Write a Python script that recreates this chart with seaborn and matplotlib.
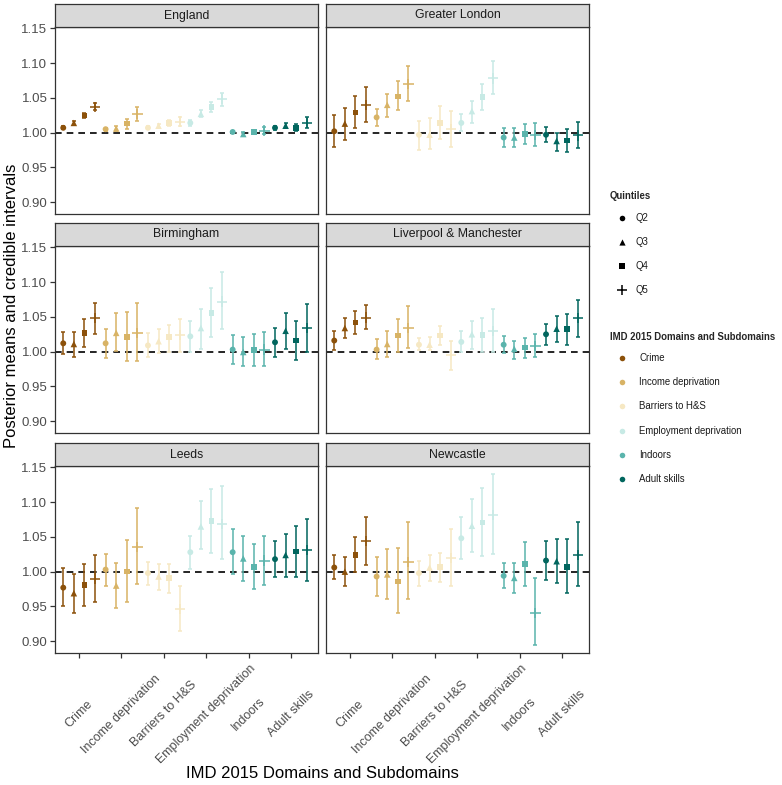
import numpy as np
import pandas as pd
import matplotlib
matplotlib.use("Agg")
import matplotlib.pyplot as plt
import seaborn as sns

sns.set_theme(style="white")
plt.rcParams['font.family'] = ['Liberation Sans', 'DejaVu Sans']

# ---------------- data ----------------
domains = ["Crime", "Income deprivation", "Barriers to H&S",
           "Employment deprivation", "Indoors", "Adult skills"]
quintiles = ["Q2", "Q3", "Q4", "Q5"]
regions = ["England", "Greater London", "Birmingham",
           "Liverpool & Manchester", "Leeds", "Newcastle"]
domain_colors = ["#8c510a", "#d8b365", "#f6e8c3", "#c7eae5", "#5ab4ac", "#01665e"]
yticks = [0.90, 0.95, 1.00, 1.05, 1.10, 1.15]

# values ordered domain-major, quintile-minor (Q2..Q5)
england_mean = [1.007, 1.014, 1.025, 1.037, 1.005, 1.006, 1.013, 1.027,
                1.007, 1.010, 1.014, 1.016, 1.014, 1.027, 1.037, 1.048,
                1.001, 0.998, 1.001, 1.003, 1.007, 1.010, 1.007, 1.014]
england_lo = [1.005, 1.011, 1.021, 1.032, 1.003, 1.003, 1.005, 1.017,
              1.005, 1.007, 1.010, 1.010, 1.010, 1.022, 1.030, 1.038,
              0.999, 0.995, 0.998, 0.998, 1.004, 1.006, 1.002, 1.006]
england_hi = [1.009, 1.017, 1.029, 1.042, 1.007, 1.009, 1.020, 1.037,
              1.009, 1.013, 1.018, 1.022, 1.018, 1.032, 1.044, 1.057,
              1.003, 1.001, 1.004, 1.008, 1.010, 1.014, 1.012, 1.022]

london_mean = [1.002, 1.013, 1.029, 1.040, 1.022, 1.040, 1.052, 1.070,
               0.997, 0.997, 1.014, 1.005, 1.014, 1.031, 1.051, 1.078,
               0.993, 0.993, 0.998, 0.997, 0.997, 0.988, 0.989, 0.996]
london_lo = [0.980, 0.990, 1.006, 1.016, 1.009, 1.023, 1.032, 1.046,
             0.975, 0.976, 0.991, 0.980, 1.002, 1.014, 1.032, 1.055,
             0.980, 0.979, 0.983, 0.981, 0.986, 0.974, 0.972, 0.978]
london_hi = [1.025, 1.036, 1.053, 1.065, 1.034, 1.056, 1.074, 1.096,
             1.017, 1.021, 1.038, 1.031, 1.027, 1.046, 1.070, 1.103,
             1.006, 1.006, 1.013, 1.014, 1.008, 0.999, 1.005, 1.016]

birmingham_mean = [1.012, 1.011, 1.027, 1.048, 1.012, 1.027, 1.021, 1.027,
                   1.009, 1.015, 1.021, 1.024, 1.022, 1.034, 1.056, 1.072,
                   1.003, 0.9995, 1.002, 1.003, 1.0135, 1.030, 1.016, 1.034]
birmingham_lo = [0.997, 0.993, 1.007, 1.025, 0.991, 1.001, 0.986, 0.986,
                 0.993, 0.998, 1.000, 1.000, 1.000, 1.004, 1.021, 1.032,
                 0.982, 0.979, 0.980, 0.980, 0.993, 1.004, 0.988, 1.000]
birmingham_hi = [1.028, 1.029, 1.047, 1.070, 1.033, 1.056, 1.057, 1.070,
                 1.027, 1.033, 1.039, 1.047, 1.044, 1.062, 1.092, 1.114,
                 1.024, 1.021, 1.025, 1.028, 1.034, 1.055, 1.044, 1.069]

livman_mean = [1.016, 1.034, 1.042, 1.049, 1.003, 1.011, 1.023, 1.034,
               1.010, 1.010, 1.023, 0.995, 1.014, 1.025, 1.024, 1.030,
               1.010, 1.004, 1.006, 1.008, 1.025, 1.033, 1.033, 1.048]
livman_lo = [1.002, 1.019, 1.025, 1.032, 0.989, 0.992, 0.999, 1.005,
             1.003, 1.003, 1.010, 0.973, 0.9995, 1.004, 0.9995, 0.999,
             0.998, 0.990, 0.991, 0.992, 1.010, 1.014, 1.010, 1.021]
livman_hi = [1.030, 1.048, 1.058, 1.067, 1.018, 1.030, 1.047, 1.065,
             1.020, 1.021, 1.037, 1.015, 1.030, 1.044, 1.049, 1.061,
             1.022, 1.016, 1.019, 1.025, 1.040, 1.051, 1.054, 1.075]

leeds_mean = [0.977, 0.969, 0.981, 0.990, 1.003, 0.980, 1.000, 1.035,
              0.998, 0.993, 0.991, 0.946, 1.028, 1.065, 1.073, 1.069,
              1.028, 1.019, 1.007, 1.016, 1.018, 1.024, 1.029, 1.031]
leeds_lo = [0.951, 0.940, 0.951, 0.957, 0.980, 0.948, 0.957, 0.982,
            0.981, 0.973, 0.969, 0.914, 1.004, 1.032, 1.027, 1.018,
            0.996, 0.987, 0.975, 0.981, 0.992, 0.993, 0.992, 0.986]
leeds_hi = [1.005, 0.997, 1.011, 1.024, 1.025, 1.013, 1.046, 1.091,
            1.014, 1.011, 1.011, 0.979, 1.052, 1.101, 1.119, 1.123,
            1.061, 1.052, 1.040, 1.051, 1.044, 1.054, 1.066, 1.076]

newcastle_mean = [1.006, 1.000, 1.024, 1.044, 0.993, 0.996, 0.986, 1.014,
                  0.998, 1.006, 1.007, 1.020, 1.048, 1.066, 1.071, 1.082,
                  0.994, 0.991, 1.011, 0.941, 1.016, 1.015, 1.007, 1.024]
newcastle_lo = [0.989, 0.980, 0.999, 1.009, 0.965, 0.961, 0.941, 0.960,
                0.980, 0.986, 0.985, 0.980, 1.018, 1.029, 1.023, 1.026,
                0.976, 0.969, 0.980, 0.894, 0.988, 0.983, 0.969, 0.979]
newcastle_hi = [1.024, 1.021, 1.050, 1.079, 1.021, 1.032, 1.034, 1.072,
                1.015, 1.024, 1.027, 1.061, 1.079, 1.105, 1.120, 1.141,
                1.012, 1.013, 1.042, 0.991, 1.044, 1.047, 1.047, 1.072]

region_data = {
    "England": (england_mean, england_lo, england_hi),
    "Greater London": (london_mean, london_lo, london_hi),
    "Birmingham": (birmingham_mean, birmingham_lo, birmingham_hi),
    "Liverpool & Manchester": (livman_mean, livman_lo, livman_hi),
    "Leeds": (leeds_mean, leeds_lo, leeds_hi),
    "Newcastle": (newcastle_mean, newcastle_lo, newcastle_hi),
}

# ---------------- long table ----------------
dodge = 0.25
rows = []
for r in regions:
    m, lo, hi = region_data[r]
    for i, d in enumerate(domains):
        for j, q in enumerate(quintiles):
            k = i * len(quintiles) + j
            rows.append(dict(region=r, domain=d, quintile=q,
                             mean=m[k], lo=lo[k], hi=hi[k],
                             xpos=i + 1 + (j - 1.5) * dodge))
df = pd.DataFrame(rows)
palette = dict(zip(domains, domain_colors))
filled_markers = {"Q2": "o", "Q3": "^", "Q4": "s"}
marker_sizes = {"Q2": 18, "Q3": 22, "Q4": 16}

# ---------------- layout ----------------
W, H = 782, 785
fig = plt.figure(figsize=(W / 100, H / 100), dpi=100)
fig.patch.set_facecolor("white")

col_left = [55, 326]
panel_w = 263
row_top = [27, 246, 466]
panel_h = 187
strip_h = 23
edge = "#333333"

for idx, r in enumerate(regions):
    rr, cc = divmod(idx, 2)
    x0 = col_left[cc]
    y0 = row_top[rr]
    ax = fig.add_axes([x0 / W, 1 - (y0 + panel_h) / H, panel_w / W, panel_h / H])
    sub = df[df.region == r]

    ax.axhline(1.0, color="black", lw=1.2, ls=(0, (4, 3)), zorder=1)

    for _, row in sub.iterrows():
        ax.errorbar(row.xpos, row["mean"],
                    yerr=[[row["mean"] - row.lo], [row.hi - row["mean"]]],
                    fmt="none", ecolor=palette[row.domain], elinewidth=1.1,
                    capsize=1.3, capthick=1.1, zorder=2)

    filled = sub[sub.quintile != "Q5"]
    for q in ["Q2", "Q3", "Q4"]:
        sns.scatterplot(data=filled[filled.quintile == q], x="xpos", y="mean",
                        hue="domain", palette=palette, marker=filled_markers[q],
                        s=marker_sizes[q], linewidth=0, legend=False, ax=ax, zorder=3)
    q5 = sub[sub.quintile == "Q5"]
    ax.scatter(q5.xpos, q5["mean"], marker="+", s=55, linewidths=1.1,
               c=[palette[d] for d in q5.domain], zorder=3)

    ax.set_xlim(0.43, 6.64)
    ax.set_ylim(0.883, 1.152)
    ax.set_xlabel("")
    ax.set_ylabel("")
    for s in ax.spines.values():
        s.set_color(edge)
        s.set_linewidth(0.9)
    ax.set_facecolor("white")

    ax.set_yticks(yticks)
    ax.set_xticks(range(1, len(domains) + 1))
    if cc == 0:
        ax.set_yticklabels([f"{v:.2f}" for v in yticks], fontsize=9.5, color="#4D4D4D")
        ax.tick_params(axis="y", length=3.5, width=0.9, color=edge, left=True, pad=2)
    else:
        ax.set_yticklabels([])
        ax.tick_params(axis="y", left=False, length=0)
    if rr == 2:
        ax.set_xticklabels(domains, rotation=45, ha="center", va="center",
                           rotation_mode="anchor", fontsize=9, color="#4D4D4D")
        ax.tick_params(axis="x", length=3.5, width=0.9, color=edge, bottom=True, pad=40.5)
    else:
        ax.set_xticklabels([])
        ax.tick_params(axis="x", bottom=False, length=0)

    # strip
    sax = fig.add_axes([x0 / W, 1 - y0 / H, panel_w / W, strip_h / H])
    sax.set_facecolor("#D9D9D9")
    sax.set_xticks([])
    sax.set_yticks([])
    for s in sax.spines.values():
        s.set_color(edge)
        s.set_linewidth(0.9)
    sax.text(0.5, 0.5, r, ha="center", va="center", fontsize=8.8, color="#1A1A1A",
             transform=sax.transAxes)

# axis titles
fig.text(322 / W, 1 - 773 / H, "IMD 2015 Domains and Subdomains",
         ha="center", va="center", fontsize=12, color="black")
fig.text(12 / W, 1 - 306 / H, "Posterior means and credible intervals",
         ha="center", va="center", rotation=90, fontsize=12, color="black")

# ---------------- legend (manual) ----------------
lax = fig.add_axes([0, 0, 1, 1], facecolor="none")
lax.set_xlim(0, W)
lax.set_ylim(H, 0)
lax.axis("off")

lax.text(610, 196, "Quintiles", fontsize=6.9, fontweight="bold", va="center", ha="left")
q_markers = {"Q2": ("o", 16), "Q3": ("^", 20), "Q4": ("s", 14), "Q5": ("+", 50)}
for n, q in enumerate(quintiles):
    y = 218 + n * 24
    mk, sz = q_markers[q]
    lax.scatter([622], [y], marker=mk, s=sz, color="black", linewidths=1.1 if mk == "+" else 0)
    lax.text(635, y, q, fontsize=6.9, va="center", ha="left", color="#1A1A1A")

lax.text(610, 337, "IMD 2015 Domains and Subdomains", fontsize=6.9, fontweight="bold",
         va="center", ha="left")
for n, d in enumerate(domains):
    y = 358 + n * 24.2
    lax.scatter([622], [y], marker="o", s=16, color=palette[d], linewidths=0)
    lax.text(639, y, d, fontsize=6.9, va="center", ha="left", color="#1A1A1A")

fig.savefig("out.png", dpi=100, facecolor="white")
